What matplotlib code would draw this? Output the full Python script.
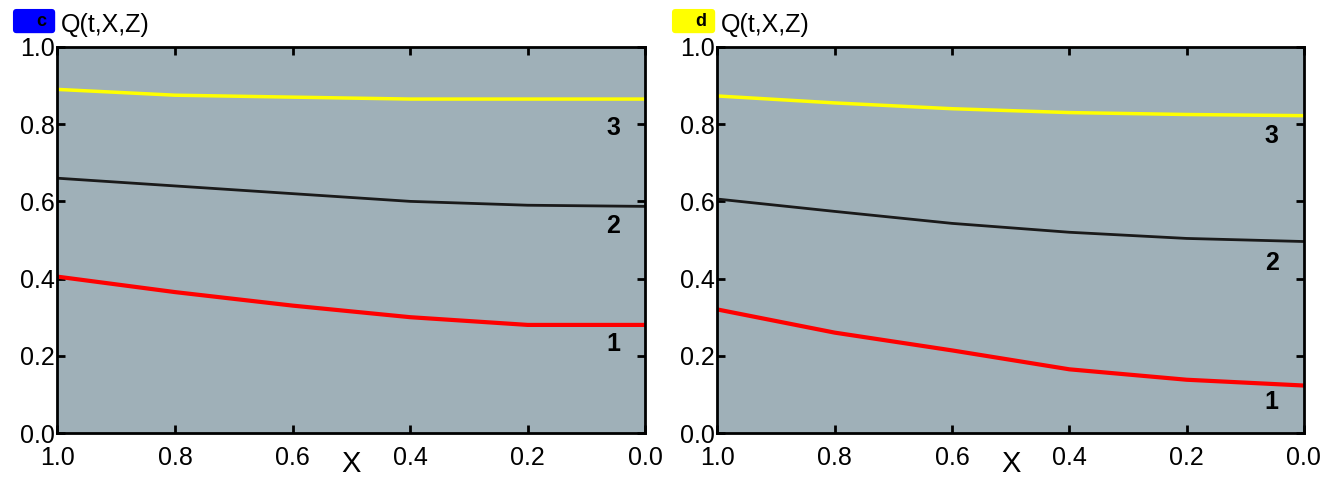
import numpy as np
import matplotlib
matplotlib.use('Agg')
import matplotlib.pyplot as plt

# valori
x = [1.0, 0.8, 0.6, 0.4, 0.2, 0.0]

c_1 = [0.405, 0.365, 0.33, 0.30, 0.28, 0.28]
c_2 = [0.66, 0.64, 0.62, 0.60, 0.59, 0.587]
c_3 = [0.89, 0.875, 0.87, 0.865, 0.865, 0.865]

d_1 = [0.32, 0.26, 0.214, 0.165, 0.138, 0.123]
d_2 = [0.606, 0.574, 0.543, 0.52, 0.504, 0.496]
d_3 = [0.873, 0.855, 0.84, 0.83, 0.825, 0.822]

ticks = [0.0, 0.2, 0.4, 0.6, 0.8, 1.0]
tick_labels = ['0.0', '0.2', '0.4', '0.6', '0.8', '1.0']

panels = [
    ('c', '#0000ff', 'black', c_1, c_2, c_3, [0.79, 0.535, 0.23]),
    ('d', '#ffff00', 'black', d_1, d_2, d_3, [0.77, 0.44, 0.08]),
]

plt.rcParams['font.family'] = ['Liberation Sans', 'DejaVu Sans']

fig = plt.figure(figsize=(13.36, 4.79), dpi=100)
boxes = [[0.043, 0.096, 0.44, 0.806], [0.537, 0.096, 0.439, 0.806]]

for box, (lit, culoare, cul_text, s1, s2, s3, pos_y) in zip(boxes, panels):
    ax = fig.add_axes(box)
    ax.set_facecolor('#9fb0b8')
    ax.plot(x, s3, color='#ffff00', lw=2.5)
    ax.plot(x, s2, color='#1a1a1a', lw=2)
    ax.plot(x, s1, color='#ff0000', lw=3)
    ax.set_xlim(1.0, 0.0)
    ax.set_ylim(0.0, 1.0)
    ax.set_xticks(ticks)
    ax.set_xticklabels(tick_labels)
    ax.set_yticks(ticks)
    ax.set_yticklabels(tick_labels)
    ax.tick_params(direction='in', length=6, width=2, top=True, right=True,
                   labelsize=18)
    ax.tick_params(axis='x', pad=9)
    ax.tick_params(axis='y', pad=2)
    for s in ax.spines.values():
        s.set_linewidth(2)
    for eticheta, yy in zip(['3', '2', '1'], pos_y):
        ax.text(0.055, yy, eticheta, fontsize=18, fontweight='bold',
                ha='center', va='center')
    ax.text(0.5, -0.045, 'X', transform=ax.transAxes, fontsize=21,
            ha='center', va='top')
    ax.text(-0.01, 1.045, '    ' + lit + ' ', transform=ax.transAxes, fontsize=13,
            fontweight='bold', ha='right', va='bottom', color=cul_text,
            bbox=dict(boxstyle='round,pad=0.2,rounding_size=0.2', fc=culoare, ec='none'))
    ax.text(0.006, 1.025, 'Q(t,X,Z)', transform=ax.transAxes, fontsize=18,
            ha='left', va='bottom')

plt.savefig('out.png', dpi=100)
